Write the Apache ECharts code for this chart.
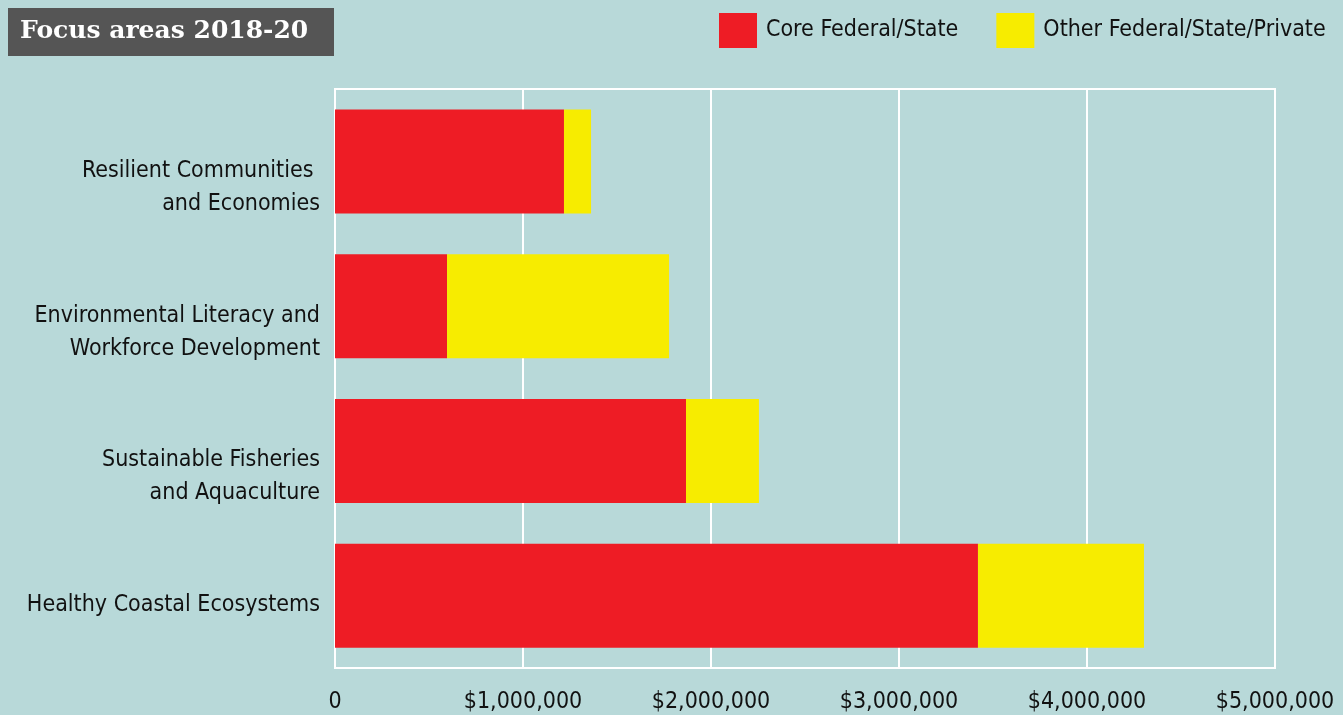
<!DOCTYPE html>
<html>
<head>
<meta charset="utf-8">
<title>Focus areas 2018-20</title>
<script src="https://cdn.jsdelivr.net/npm/echarts@6/dist/echarts.min.js"></script>
<style>
  html, body { margin: 0; padding: 0; background: #b8d9d9; }
  #chart { width: 1343px; height: 715px; }
</style>
</head>
<body>
<div id="chart"></div>
<script>
// focus areas, top to bottom
const categories = [
    'Resilient Communities \nand Economies',
    'Environmental Literacy and\nWorkforce Development',
    'Sustainable Fisheries\nand Aquaculture',
    'Healthy Coastal Ecosystems'
];
const coreFederalState = [1218000, 596000, 1867000, 3420000];
const otherFederalStatePrivate = [144000, 1181000, 388000, 883000];
const seriesNames = ['Core Federal/State', 'Other Federal/State/Private'];

const narrowFont = '"Liberation Sans Narrow", "DejaVu Sans Condensed", "Roboto", sans-serif';

let chart = echarts.init(document.getElementById('chart'), null, { renderer: 'canvas' });

// first line of a label sits just under the bar centre, the second one follows
function categoryLabel(value) {
    const lines = value.split('\n');
    return lines.map((line, i) => (i === 0 ? '{first|' : '{rest|') + line + '}').join('\n');
}

chart.setOption({
    backgroundColor: '#b8d9d9',
    animation: false,
    graphic: [
        {
            type: 'rect',
            left: 8, top: 8,
            shape: { width: 326, height: 48 },
            style: { fill: '#555555' }
        },
        {
            type: 'text',
            left: 20, top: 19,
            style: {
                text: 'Focus areas 2018-20',
                fill: '#ffffff',
                font: 'bold 25px "DejaVu Serif", serif'
            }
        }
    ],
    legend: {
        left: 719, top: 13,
        padding: 0,
        itemWidth: 38, itemHeight: 35,
        itemGap: 38,
        icon: 'rect',
        textStyle: {
            fontFamily: narrowFont,
            fontSize: 23,
            color: '#111111',
            padding: [4, 0, 0, 4]
        },
        data: seriesNames
    },
    grid: {
        left: 335, right: 68, top: 89, bottom: 47,
        show: true,
        borderColor: '#ffffff',
        borderWidth: 2,
        containLabel: false
    },
    xAxis: {
        type: 'value',
        min: 0, max: 5000000, interval: 1000000,
        axisLine: { show: false },
        axisTick: { show: false },
        splitLine: { show: true, lineStyle: { color: '#ffffff', width: 2 } },
        axisLabel: {
            margin: 23,
            fontFamily: narrowFont,
            fontSize: 23,
            color: '#111111',
            formatter: (v) => v === 0 ? '0' : '$' + v.toLocaleString('en-US')
        }
    },
    yAxis: {
        type: 'category',
        inverse: true,
        data: categories,
        axisLine: { show: true, lineStyle: { color: '#ffffff', width: 2 } },
        axisTick: { show: false },
        axisLabel: {
            margin: 15,
            fontFamily: narrowFont,
            fontSize: 23,
            color: '#111111',
            align: 'right',
            verticalAlign: 'top',
            formatter: categoryLabel,
            rich: {
                first: { fontFamily: narrowFont, fontSize: 23, color: '#111111', lineHeight: 19 },
                rest: { fontFamily: narrowFont, fontSize: 23, color: '#111111', lineHeight: 47 }
            }
        }
    },
    series: [
        {
            name: seriesNames[0],
            type: 'bar',
            stack: 'total',
            barWidth: 104,
            itemStyle: { color: '#ee1c25' },
            data: coreFederalState
        },
        {
            name: seriesNames[1],
            type: 'bar',
            stack: 'total',
            barWidth: 104,
            itemStyle: { color: '#f7ec00' },
            data: otherFederalStatePrivate
        }
    ]
});
</script>
</body>
</html>
